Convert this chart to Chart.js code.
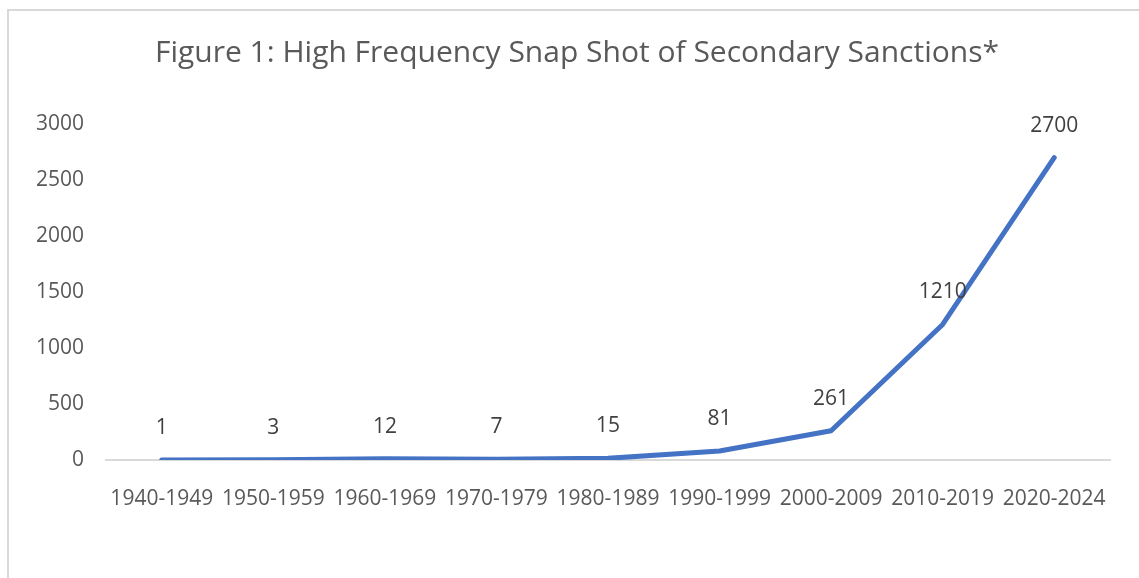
<!DOCTYPE html>
<html>
<head>
<meta charset="utf-8">
<script src="https://cdn.jsdelivr.net/npm/chart.js@4/dist/chart.umd.min.js"></script>
<style>
  html, body { margin: 0; padding: 0; background: #fff; }
  #frame {
    position: absolute; left: 7px; top: 9px; width: 1200px; height: 600px;
    border-left: 2px solid #d9d9d9; border-top: 2px solid #d9d9d9;
  }
  #wrap { position: absolute; left: 0; top: 0; width: 1139px; height: 578px; }
</style>
</head>
<body>
<div id="frame"></div>
<div id="wrap"><canvas id="chart" width="1139" height="578"></canvas></div>
<script>
const decades = ['1940-1949', '1950-1959', '1960-1969', '1970-1979', '1980-1989',
  '1990-1999', '2000-2009', '2010-2019', '2020-2024'];
const sanctions = [1, 3, 12, 7, 15, 81, 261, 1210, 2700];
const yTicks = [0, 500, 1000, 1500, 2000, 2500, 3000];
const chartTitle = 'Figure 1: High Frequency Snap Shot of Secondary Sanctions*';

const FONT = "'Open Sans', sans-serif";

// labels above each point, like Excel's "above" data labels
const pointLabels = {
  id: 'pointLabels',
  afterDatasetsDraw(chart) {
    const ctx = chart.ctx;
    const meta = chart.getDatasetMeta(0);
    ctx.save();
    ctx.font = `21px ${FONT}`;
    ctx.fillStyle = '#404040';
    ctx.textAlign = 'center';
    ctx.textBaseline = 'middle';
    meta.data.forEach((pt, i) => {
      ctx.fillText(String(sanctions[i]), pt.x, pt.y - 32);
    });
    ctx.restore();
  }
};

// title centred on the whole chart frame (which starts at x=8), not on the canvas
const frameTitle = {
  id: 'frameTitle',
  afterDraw(chart) {
    const ctx = chart.ctx;
    ctx.save();
    ctx.font = `30px ${FONT}`;
    ctx.fillStyle = '#595959';
    ctx.textAlign = 'center';
    ctx.textBaseline = 'middle';
    ctx.fillText(chartTitle, 577, 53);
    ctx.restore();
  }
};

new Chart(document.getElementById('chart').getContext('2d'), {
  type: 'line',
  data: {
    labels: decades,
    datasets: [{
      data: sanctions,
      borderColor: '#4472c4',
      borderWidth: 5,
      pointRadius: 0,
      tension: 0,
      borderCapStyle: 'round',
      borderJoinStyle: 'round',
    }],
  },
  options: {
    responsive: false,
    animation: false,
    layout: { padding: { left: 0, right: 29, top: 124, bottom: 0 } },
    plugins: {
      legend: { display: false },
      tooltip: { enabled: false },
      title: { display: false },
    },
    scales: {
      x: {
        offset: true,
        grid: { display: false },
        border: { display: true, color: '#d9d9d9', width: 2 },
        ticks: {
          color: '#595959',
          font: { family: FONT, size: 21 },
          padding: 18,
          maxRotation: 0,
          autoSkip: false,
        },
        afterFit(scale) { scale.height = 118; },
      },
      y: {
        min: 0,
        max: 3000,
        afterBuildTicks(scale) { scale.ticks = yTicks.map(v => ({ value: v })); },
        grid: { display: false, drawTicks: false },
        border: { display: false },
        ticks: {
          color: '#595959',
          font: { family: FONT, size: 21 },
          padding: 22,
          callback: v => String(v),
        },
        afterFit(scale) { scale.width = 106; },
      },
    },
  },
  plugins: [pointLabels, frameTitle],
});
</script>
</body>
</html>
